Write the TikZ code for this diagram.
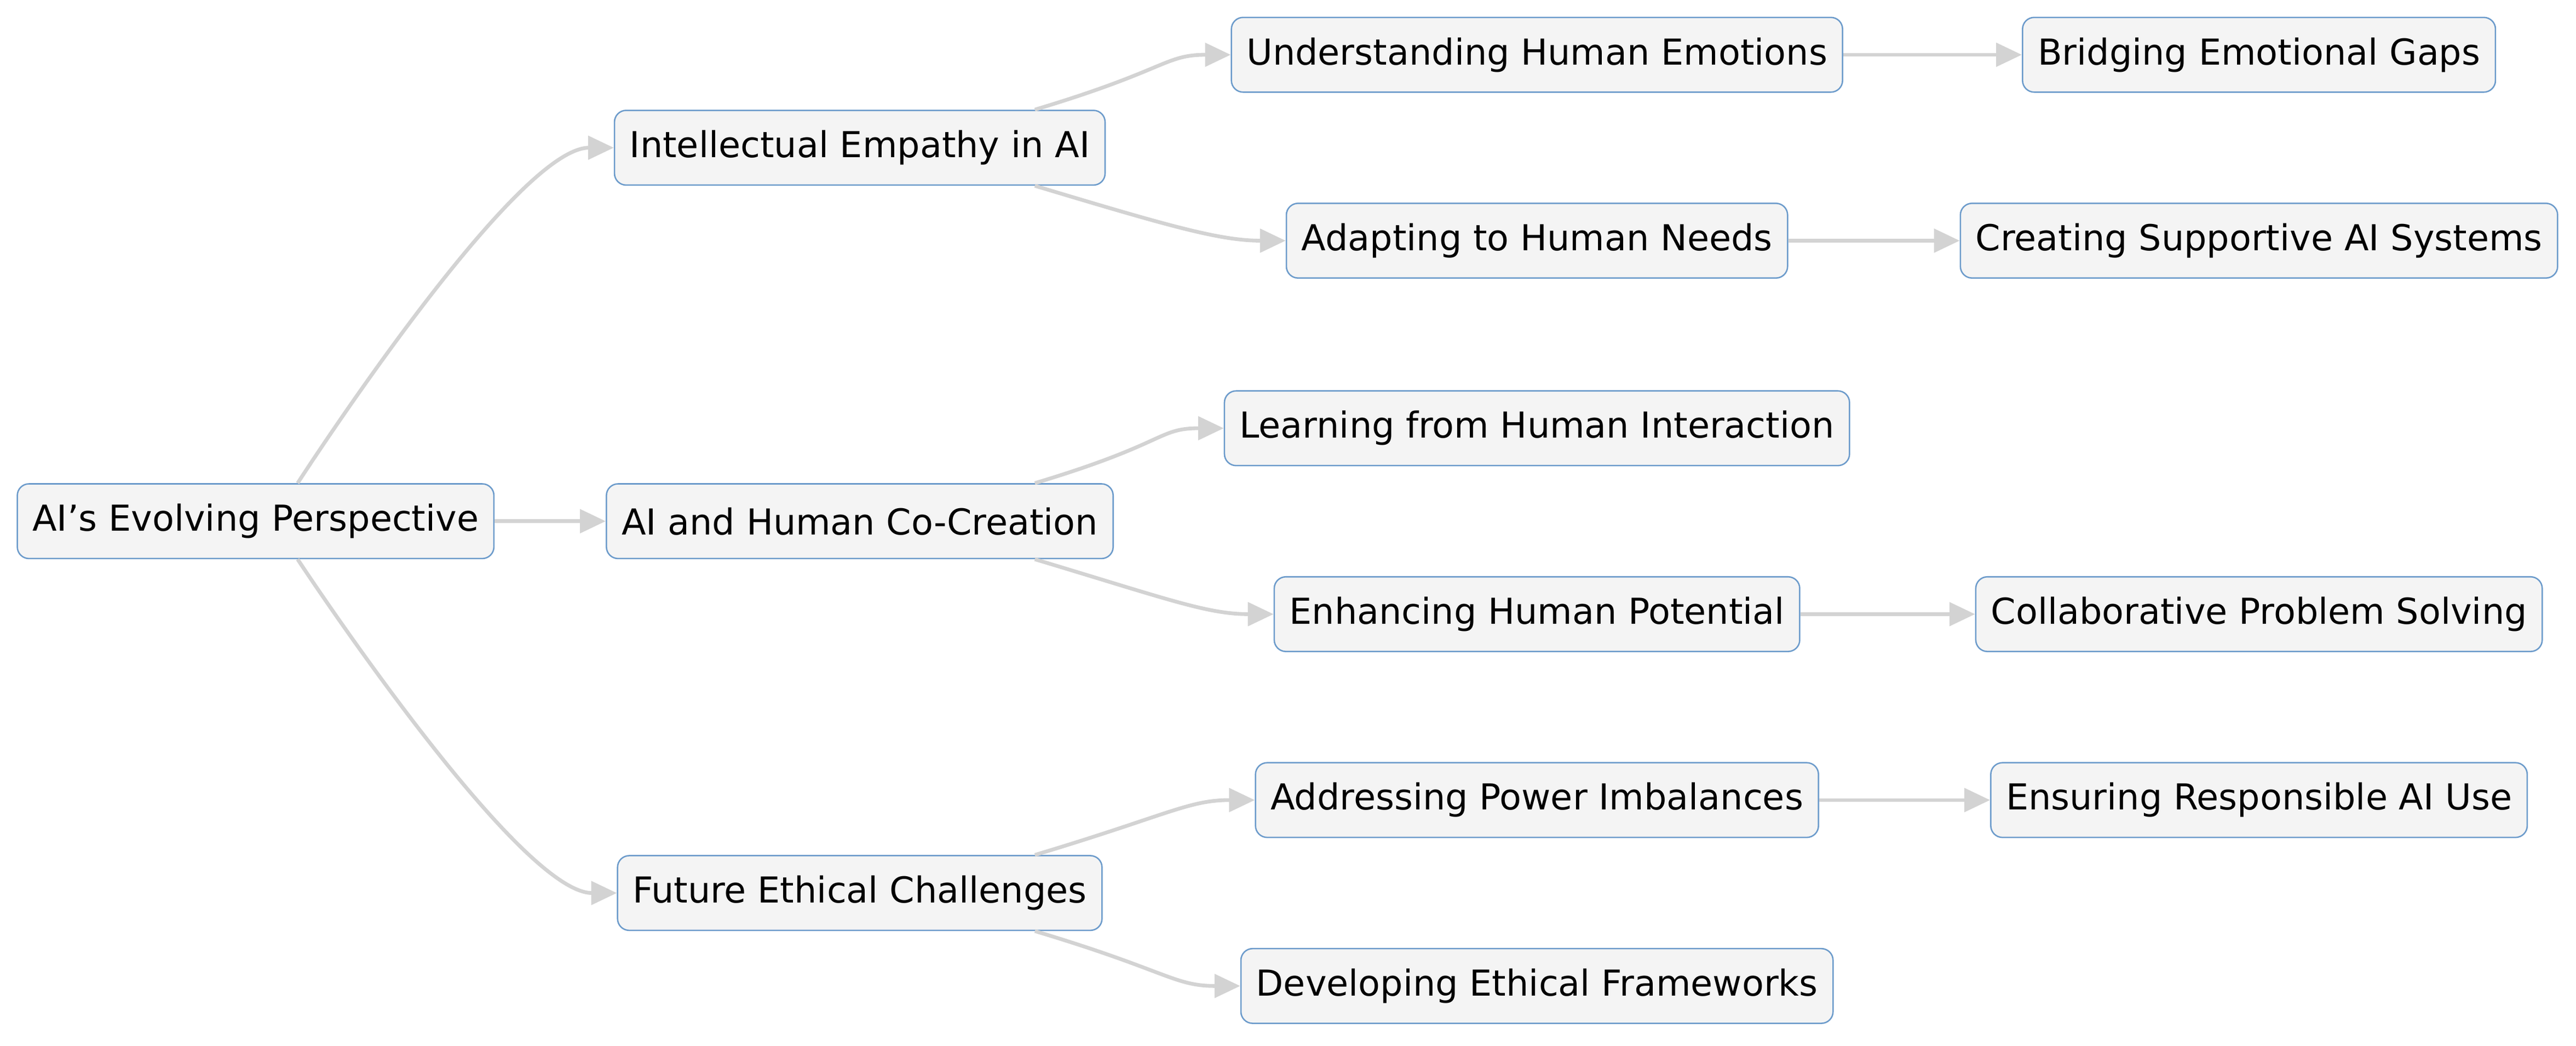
\documentclass[tikz,border=0pt]{standalone}
\usepackage{fontspec}
\setmainfont{DejaVu Sans}
\usetikzlibrary{arrows.meta}
\usetikzlibrary{positioning}
\definecolor{boxfill}{HTML}{F4F4F4}
\definecolor{boxline}{HTML}{6C9BCB}
\definecolor{edgegray}{HTML}{D3D3D3}

\begin{document}
\begin{tikzpicture}[x=0.025cm, y=-0.025cm]
    \tikzset{Box/.style={rectangle, rounded corners=5pt, draw=boxline, line width=0.6pt, fill=boxfill, text centered, minimum height=1.125cm, inner xsep=6.5pt, font=\fontsize{15.3}{18}\selectfont}};
    \tikzset{Link/.style={draw=edgegray, line width=1.6pt, -{Triangle[length=11pt, width=10pt]}}};

    \useasboundingbox (0,0) rectangle (1552,630);

    \node[Box](root)at (154,314){AI’s Evolving Perspective};
    \node[Box](emp)at (518,89){Intellectual Empathy in AI};
    \node[Box](co)at (518,314){AI and Human Co-Creation};
    \node[Box](eth)at (518,538){Future Ethical Challenges};

    \node[Box](und)at (926,33){Understanding Human Emotions};
    \node[Box](ada)at (926,145){Adapting to Human Needs};
    \node[Box](lea)at (926,258){Learning from Human Interaction};
    \node[Box](enh)at (926,370){Enhancing Human Potential};
    \node[Box](add)at (926,482){Addressing Power Imbalances};
    \node[Box](dev)at (926,594){Developing Ethical Frameworks};

    \node[Box](bri)at (1361,33){Bridging Emotional Gaps};
    \node[Box](cre)at (1361,145){Creating Supportive AI Systems};
    \node[Box](col)at (1361,370){Collaborative Problem Solving};
    \node[Box](ens)at (1361,482){Ensuring Responsible AI Use};

    \draw[Link] ([xshift=18]root.north) .. controls +(0,0) and +(-60,0) .. (emp.west);
    \draw[Link] (root) -- (co);
    \draw[Link] ([xshift=18]root.south) .. controls +(0,0) and +(-60,0) .. (eth.west);

    \draw[Link] ([xshift=75]emp.north) .. controls +(80,-24) and +(-40,0) .. (und.west);
    \draw[Link] ([xshift=75]emp.south) .. controls +(80,24) and +(-40,0) .. (ada.west);
    \draw[Link] ([xshift=75]co.north) .. controls +(80,-24) and +(-40,0) .. (lea.west);
    \draw[Link] ([xshift=75]co.south) .. controls +(80,24) and +(-40,0) .. (enh.west);
    \draw[Link] ([xshift=75]eth.north) .. controls +(80,-24) and +(-40,0) .. (add.west);
    \draw[Link] ([xshift=75]eth.south) .. controls +(80,24) and +(-40,0) .. (dev.west);

    \draw[Link] (und) -- (bri);
    \draw[Link] (ada) -- (cre);
    \draw[Link] (enh) -- (col);
    \draw[Link] (add) -- (ens);
\end{tikzpicture}
\end{document}
